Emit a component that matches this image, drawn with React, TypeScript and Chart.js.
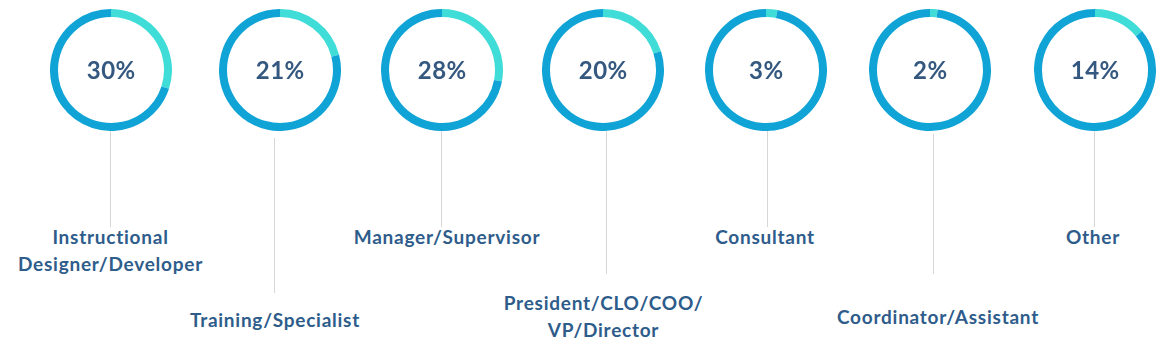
import React, { useEffect, useRef } from "react";
import { Chart, registerables } from "chart.js";

Chart.register(...registerables);

// ---- data ----
const categories: string[][] = [
  ["Instructional", "Designer/Developer"],
  ["Training/Specialist"],
  ["Manager/Supervisor"],
  ["President/CLO/COO/", "VP/Director"],
  ["Consultant"],
  ["Coordinator/Assistant"],
  ["Other"],
];
const percentValues: number[] = [30, 21, 28, 20, 3, 2, 14];
const percentLabels: string[] = ["30%", "21%", "28%", "20%", "3%", "2%", "14%"];

// ---- layout (positions in px) ----
const ringCenterX = [110.5, 280, 441.5, 602.5, 766.3, 930.3, 1094.7];
const ringCenterY = 70;
const lineX = [110, 274, 441, 605.5, 766.5, 932.5, 1094];
const lineTop = [131, 138, 131, 131, 131, 134, 131];
const lineBottom = [227, 293, 227, 274, 227, 274, 227];
const labelX = [110.5, 275, 447, 603.5, 765, 938, 1093];
const labelY = [236, 319, 236, 302, 236, 316, 236];

const TEAL = "#40dcd7";
const BLUE = "#0fa3d6";
const PCT_COLOR = "#34587f";
const LABEL_COLOR = "#2e5c8b";
const LINE_COLOR = "#d6d6d6";

const SIZE = 122;

function Ring({ index }: { index: number }) {
  const ref = useRef<HTMLCanvasElement | null>(null);
  useEffect(() => {
    if (!ref.current) return;
    const v = percentValues[index];
    const txt = percentLabels[index];
    const centerText = {
      id: "centerText",
      afterDraw(chart: any) {
        const { ctx, chartArea } = chart;
        const x = (chartArea.left + chartArea.right) / 2;
        const y = (chartArea.top + chartArea.bottom) / 2;
        ctx.save();
        ctx.font = "bold 24px Lato";
        try {
          (ctx as any).letterSpacing = "0.5px";
        } catch (e) {}
        ctx.fillStyle = PCT_COLOR;
        ctx.textAlign = "center";
        ctx.textBaseline = "middle";
        ctx.fillText(txt, x + 0.25, y + 1.5);
        ctx.restore();
      },
    };
    const chart = new Chart(ref.current, {
      type: "doughnut",
      data: {
        labels: ["Share", "Rest"],
        datasets: [
          {
            data: [v, 100 - v],
            backgroundColor: [TEAL, BLUE],
            borderWidth: 0,
          },
        ],
      },
      options: {
        responsive: false,
        animation: false,
        devicePixelRatio: 1,
        cutout: 53,
        events: [],
        layout: { padding: 0 },
        plugins: { legend: { display: false }, tooltip: { enabled: false } },
      },
      plugins: [centerText],
    });
    return () => chart.destroy();
  }, [index]);
  return (
    <canvas
      ref={ref}
      width={SIZE}
      height={SIZE}
      style={{
        position: "absolute",
        left: ringCenterX[index] - SIZE / 2,
        top: ringCenterY - SIZE / 2,
        width: SIZE,
        height: SIZE,
      }}
    />
  );
}

export default function App() {
  const LH = 27;
  return (
    <div
      style={{
        position: "fixed",
        left: 0,
        top: 0,
        width: 1172,
        height: 355,
        background: "#ffffff",
        overflow: "hidden",
      }}
    >
      {categories.map((_, i) => (
        <div
          key={"l" + i}
          style={{
            position: "absolute",
            left: Math.round(lineX[i]) - 0.5,
            top: lineTop[i],
            width: 1,
            height: lineBottom[i] - lineTop[i],
            background: LINE_COLOR,
          }}
        />
      ))}
      {categories.map((_, i) => (
        <Ring key={"r" + i} index={i} />
      ))}
      {categories.map((lines, i) => (
        <div
          key={"t" + i}
          style={{
            position: "absolute",
            left: labelX[i],
            top: labelY[i] - LH / 2,
            transform: "translateX(-50%)",
            whiteSpace: "nowrap",
            textAlign: "center",
            font: "bold 19px Lato",
            letterSpacing: "0.75px",
            lineHeight: LH + "px",
            color: LABEL_COLOR,
          }}
        >
          {lines.map((s, k) => (
            <div key={k}>{s}</div>
          ))}
        </div>
      ))}
    </div>
  );
}
